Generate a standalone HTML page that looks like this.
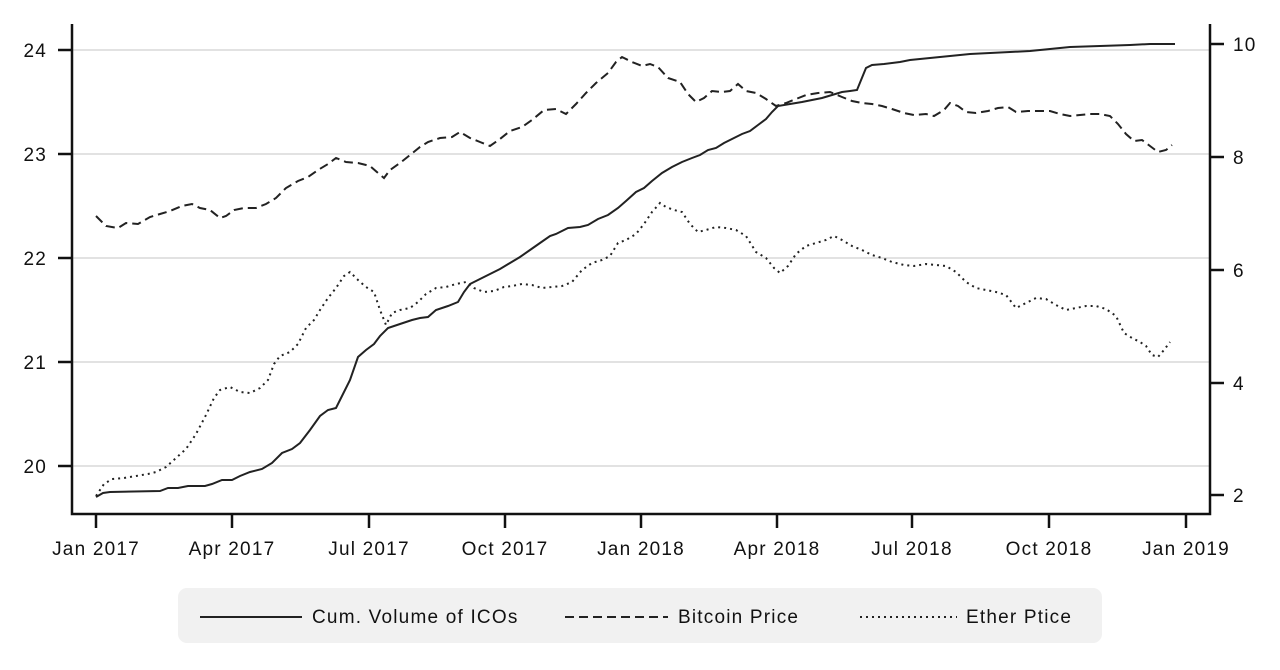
<!DOCTYPE html>
<html><head><meta charset="utf-8"><style>
html,body{margin:0;padding:0;background:#fff;}
svg{display:block;font-family:"Liberation Sans",sans-serif;}
</style></head><body>
<svg width="1280" height="670" viewBox="0 0 1280 670" xmlns="http://www.w3.org/2000/svg">
<g stroke="#e2e2e2" stroke-width="2">
<line x1="72" y1="50" x2="1210" y2="50"/><line x1="72" y1="154" x2="1210" y2="154"/>
<line x1="72" y1="258" x2="1210" y2="258"/><line x1="72" y1="362" x2="1210" y2="362"/>
<line x1="72" y1="466" x2="1210" y2="466"/>
</g>
<g stroke="#111" stroke-width="2.5" fill="none">
<polyline points="72,24 72,514 1210,514 1210,24"/>
<line x1="58" y1="50" x2="72" y2="50"/><line x1="58" y1="154" x2="72" y2="154"/><line x1="58" y1="258" x2="72" y2="258"/><line x1="58" y1="362" x2="72" y2="362"/><line x1="58" y1="466" x2="72" y2="466"/>
<line x1="1210" y1="44" x2="1224" y2="44"/><line x1="1210" y1="157" x2="1224" y2="157"/><line x1="1210" y1="270" x2="1224" y2="270"/><line x1="1210" y1="383" x2="1224" y2="383"/><line x1="1210" y1="495" x2="1224" y2="495"/>
<line x1="96" y1="514" x2="96" y2="528"/><line x1="232" y1="514" x2="232" y2="528"/><line x1="369" y1="514" x2="369" y2="528"/><line x1="505" y1="514" x2="505" y2="528"/><line x1="641" y1="514" x2="641" y2="528"/><line x1="777" y1="514" x2="777" y2="528"/><line x1="912" y1="514" x2="912" y2="528"/><line x1="1049" y1="514" x2="1049" y2="528"/><line x1="1186" y1="514" x2="1186" y2="528"/>
</g>
<g font-size="19" fill="#111" letter-spacing="1.2">
<g text-anchor="end"><text x="47" y="57">24</text><text x="47" y="161">23</text><text x="47" y="265">22</text><text x="47" y="369">21</text><text x="47" y="473">20</text></g>
<g><text x="1233" y="51">10</text><text x="1233" y="164">8</text><text x="1233" y="277">6</text><text x="1233" y="390">4</text><text x="1233" y="502">2</text></g>
<g text-anchor="middle"><text x="96" y="555">Jan 2017</text><text x="232" y="555">Apr 2017</text><text x="369" y="555">Jul 2017</text><text x="505" y="555">Oct 2017</text><text x="641" y="555">Jan 2018</text><text x="777" y="555">Apr 2018</text><text x="912" y="555">Jul 2018</text><text x="1049" y="555">Oct 2018</text><text x="1186" y="555">Jan 2019</text></g>
</g>
<g fill="none" stroke="#222" stroke-width="2">
<polyline points="96,497 103,493 110,492 160,491 168,488 178,488 188,486 205,486 212,484 222,480 232,480 240,476 250,472 262,469 272,463 282,453 292,449 300,443 310,430 320,416 328,410 336,408 342,396 350,380 358,357 366,350 374,344 380,336 388,328 400,324 412,320 420,318 428,317 436,310 448,306 458,302 464,292 470,284 480,279 490,274 500,269 510,263 520,257 530,250 540,243 550,236 556,234 568,228 580,227 588,225 598,219 608,215 618,208 626,201 636,192 644,188 652,181 662,173 672,167 682,162 692,158 700,155 708,150 716,148 724,143 734,138 742,134 750,131 758,125 766,119 772,112 778,106 790,104 802,102 812,100 822,98 832,95 842,92 850,91 857,90 866,68 872,65 884,64 900,62 910,60 930,58 950,56 970,54 990,53 1010,52 1030,51 1050,49 1070,47 1100,46 1130,45 1150,44 1175,44"/>
<polyline stroke-dasharray="9,5" points="96,216 106,226 118,228 126,223 138,224 150,217 160,214 170,211 182,206 192,204 200,208 210,210 220,218 226,216 234,210 244,208 256,208 266,204 276,198 286,188 298,181 308,177 318,170 328,164 336,158 346,162 358,163 370,166 378,173 384,178 390,170 400,163 410,155 420,147 428,142 440,138 452,137 460,132 470,138 480,142 490,146 500,139 510,131 522,127 532,120 544,110 556,109 566,114 576,104 586,93 596,83 608,73 616,62 622,57 632,62 642,66 650,64 658,67 668,78 680,82 688,94 696,102 704,98 712,91 722,92 730,91 738,84 746,91 756,93 766,99 776,106 786,103 796,99 806,95 818,93 830,92 842,97 852,101 862,103 872,104 882,106 892,109 904,113 914,115 926,114 934,116 944,110 950,103 958,106 966,112 976,113 988,111 998,108 1008,107 1016,112 1028,111 1040,111 1050,111 1060,114 1070,116 1080,115 1090,114 1100,114 1110,116 1118,124 1126,134 1134,141 1142,140 1150,146 1158,152 1166,150 1172,145"/>
<polyline stroke-dasharray="2,4" points="96,496 104,484 112,479 124,478 136,476 148,474 156,472 166,467 176,458 186,449 196,434 206,415 214,398 220,390 230,387 240,392 250,393 260,388 268,380 274,364 280,356 290,352 298,344 306,328 314,320 320,310 328,298 336,288 344,276 350,272 358,280 366,287 374,292 380,310 386,325 392,313 400,310 410,308 418,302 426,294 436,288 446,287 456,284 466,282 474,288 484,292 494,291 504,287 512,286 522,284 532,285 542,288 552,287 562,286 572,282 582,270 592,263 602,260 610,256 618,243 626,240 636,234 644,224 652,212 660,203 666,207 674,210 682,212 690,224 698,232 706,230 716,227 726,228 736,230 746,236 756,252 766,258 774,268 780,273 788,266 796,254 806,246 816,243 826,240 834,236 842,240 852,246 862,250 872,255 882,258 892,262 904,265 914,266 926,264 936,265 946,266 956,272 966,282 976,288 986,290 996,292 1006,295 1016,308 1026,303 1036,298 1046,299 1056,305 1066,310 1076,308 1086,306 1096,306 1106,309 1116,316 1124,333 1132,338 1140,342 1146,346 1152,355 1158,357 1164,350 1170,342"/>
</g>
<rect x="178" y="588" width="924" height="55" rx="9" fill="#f1f1f1"/>
<g stroke="#222" stroke-width="2">
<line x1="200" y1="617" x2="302" y2="617"/>
<line x1="565" y1="617" x2="668" y2="617" stroke-dasharray="9,5"/>
<line x1="860" y1="617" x2="957" y2="617" stroke-dasharray="2,4"/>
</g>
<g font-size="19" fill="#111" letter-spacing="1.2">
<text x="312" y="623">Cum. Volume of ICOs</text>
<text x="678" y="623">Bitcoin Price</text>
<text x="966" y="623">Ether Ptice</text>
</g>
</svg>
</body></html>
